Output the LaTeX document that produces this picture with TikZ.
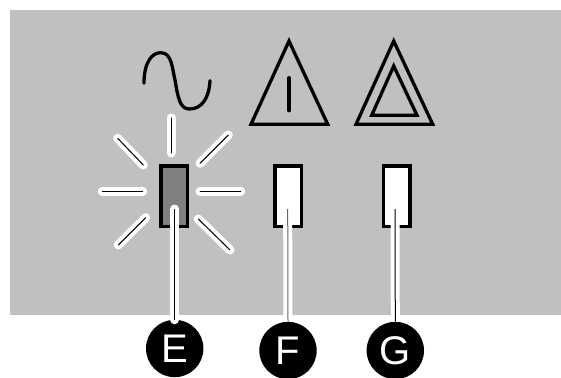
\documentclass[tikz,border=0pt]{standalone}
\usepackage{fontspec}
\setmainfont{Liberation Sans}
\tikzset{
  panel/.style={fill=panelgray,draw=none},
  lamp/.style={draw=black,line width=3.6pt,minimum width=26.6pt,minimum height=60.6pt,inner sep=0pt,outer sep=0pt},
  badge/.style={circle,fill=black,text=white,minimum size=57.4pt,inner sep=0pt,outer sep=0pt,font=\fontsize{40}{40}\selectfont},
  symbolline/.style={draw=black,line width=3.3pt,line join=miter,line cap=round},
  halo/.style={draw=white,line width=9pt,line cap=round},
  core/.style={draw=black,line width=1pt,line cap=round},
  leadhalo/.style={draw=white,line width=9pt,line cap=round},
  leadcore/.style={draw=black,line width=1pt},
}
\definecolor{panelgray}{RGB}{192,192,192}
\definecolor{lampgray}{RGB}{128,128,128}
\newcommand{\ray}[2]{\draw[halo] #1 -- #2; \draw[core] #1 -- #2;}
\begin{document}
\begin{tikzpicture}[x=1pt,y=-1pt]
\useasboundingbox (0,0) rectangle (561,377);
\fill[panel] (10,10) rectangle (561,315);
% symbols
\draw[symbolline] (144,83.3) .. controls (144,62) and (152,52.7) .. (160.7,52.7)
  .. controls (172,52.7) and (172,68) .. (175,80)
  .. controls (178,98) and (180,109) .. (189.3,109)
  .. controls (202,109) and (209,98) .. (210,80.7);
\draw[symbolline,line cap=butt] (289,41) -- (327.7,124.3) -- (251,124.3) -- cycle;
\draw[symbolline] (289,77.7) -- (289,110.7);
\draw[symbolline,line cap=butt] (393.7,41) -- (432.7,124.3) -- (356,124.3) -- cycle;
\draw[symbolline,line cap=butt] (393.7,66) -- (417,115.3) -- (371.7,115.3) -- cycle;
% rays
\ray{(171,118)}{(171,153)}
\ray{(117.7,138.3)}{(143.3,165)}
\ray{(228.3,135)}{(200,163.3)}
\ray{(102.3,191.3)}{(142.7,191.3)}
\ray{(200,191.3)}{(240.7,191.3)}
\ray{(145.7,217.7)}{(118.3,245)}
\ray{(198.3,219)}{(230,250)}
% lamps
\node[lamp,fill=lampgray] (lampE) at (174,196) {};
\node[lamp,fill=white] (lampF) at (288.3,196) {};
\node[lamp,fill=white] (lampG) at (396.7,196) {};
% badges
\coordinate (tipE) at (174.7,209);
\coordinate (tipF) at (287.7,209);
\coordinate (tipG) at (395,209);
\node[badge] (badgeE) at (174.7,348.5) {E};
\node[badge] (badgeF) at (288,350.5) {F};
\node[badge] (badgeG) at (395.3,350.5) {G};
% leaders
\draw[leadhalo] (tipE) -- (badgeE.north);
\draw[leadhalo,line cap=butt] (tipF) ++(0,15) -- (badgeF.north);
\draw[leadhalo,line cap=butt] (tipG) ++(0,15) -- (badgeG.north);
\draw[leadcore] (tipE) -- (badgeE.north);
\draw[leadcore,draw=black!60] (tipF) -- (badgeF.north);
\draw[leadcore] (tipG) -- (badgeG.north);
\end{tikzpicture}
\end{document}
